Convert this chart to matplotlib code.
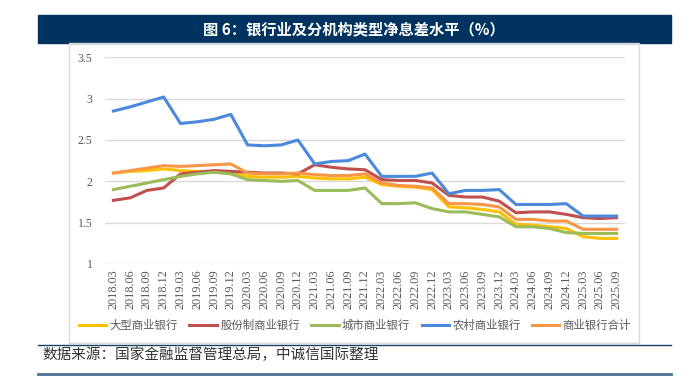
import matplotlib.pyplot as plt
from matplotlib.patches import Rectangle
from matplotlib.lines import Line2D
import numpy as np

plt.rcParams['font.family'] = ['Noto Sans CJK SC', 'DejaVu Sans']

# quarters 2018.03 - 2025.09
quarters = ['2018.03', '2018.06', '2018.09', '2018.12',
            '2019.03', '2019.06', '2019.09', '2019.12',
            '2020.03', '2020.06', '2020.09', '2020.12',
            '2021.03', '2021.06', '2021.09', '2021.12',
            '2022.03', '2022.06', '2022.09', '2022.12',
            '2023.03', '2023.06', '2023.09', '2023.12',
            '2024.03', '2024.06', '2024.09', '2024.12',
            '2025.03', '2025.06', '2025.09']

large = [2.10, 2.12, 2.13, 2.15, 2.13, 2.12, 2.11, 2.10,
         2.06, 2.05, 2.05, 2.06, 2.04, 2.03, 2.03, 2.05,
         1.96, 1.94, 1.93, 1.90, 1.69, 1.68, 1.66, 1.63,
         1.48, 1.47, 1.45, 1.43, 1.33, 1.31, 1.31]
joint_stock = [1.77, 1.80, 1.89, 1.92, 2.09, 2.11, 2.13, 2.12,
               2.11, 2.10, 2.10, 2.09, 2.20, 2.17, 2.15, 2.14,
               2.02, 2.01, 2.01, 1.98, 1.83, 1.81, 1.81, 1.76,
               1.62, 1.63, 1.63, 1.60, 1.56, 1.55, 1.56]
city = [1.90, 1.94, 1.98, 2.02, 2.06, 2.09, 2.11, 2.09,
        2.02, 2.01, 2.00, 2.01, 1.89, 1.89, 1.89, 1.92,
        1.73, 1.73, 1.74, 1.67, 1.63, 1.63, 1.60, 1.57,
        1.45, 1.45, 1.43, 1.38, 1.37, 1.37, 1.37]
rural = [2.85, 2.90, 2.96, 3.02, 2.70, 2.72, 2.75, 2.81,
         2.44, 2.43, 2.44, 2.50, 2.21, 2.24, 2.25, 2.33,
         2.06, 2.06, 2.06, 2.10, 1.85, 1.89, 1.89, 1.90,
         1.72, 1.72, 1.72, 1.73, 1.58, 1.58, 1.58]
total = [2.10, 2.13, 2.16, 2.19, 2.18, 2.19, 2.20, 2.21,
         2.10, 2.09, 2.09, 2.10, 2.08, 2.07, 2.07, 2.09,
         1.98, 1.95, 1.94, 1.92, 1.73, 1.73, 1.72, 1.69,
         1.54, 1.54, 1.52, 1.52, 1.42, 1.42, 1.42]

series_names = ['大型商业银行', '股份制商业银行', '城市商业银行', '农村商业银行', '商业银行合计']
series_values = [large, joint_stock, city, rural, total]
colors = ['#FFC000', '#C0504D', '#9BBB59', '#4A89DC', '#F79646']

W, H = 690, 383
fig = plt.figure(figsize=(6.9, 3.83), dpi=100)

# title bar
fig.patches.append(Rectangle((38 / W, 1 - 42.7 / H), 633 / W, 27.7 / H,
                             transform=fig.transFigure, color='#00335F', zorder=0))
fig.text(354 / W, 1 - 29 / H, '图 6：银行业及分机构类型净息差水平（%）',
         color='white', fontsize=11, fontweight='bold', ha='center', va='center')

# chart frame
fig.patches.append(Rectangle((69 / W, 1 - 343 / H), 570 / W, 300.3 / H,
                             transform=fig.transFigure, fill=False,
                             edgecolor='#D9D9D9', lw=1, zorder=0))

ax = fig.add_axes([105 / W, 1 - 264 / H, 520 / W, 206.7 / H])
x = np.arange(len(quarters))
for name, vals, c in zip(series_names, series_values, colors):
    ax.plot(x, vals, color=c, lw=2.2, label=name, solid_joinstyle='round')

ax.set_xlim(-0.5, len(quarters) - 0.5)
ax.set_ylim(1, 3.5)
ax.set_yticks([1, 1.5, 2, 2.5, 3, 3.5])
ax.set_yticklabels(['1', '1.5', '2', '2.5', '3', '3.5'],
                   fontfamily='Liberation Serif', fontsize=8.5, color='#595959')
ax.set_xticks(x)
ax.set_xticklabels(quarters, rotation=90, fontfamily='Liberation Serif',
                   fontsize=8.8, color='#595959')
ax.tick_params(axis='both', length=0)
ax.tick_params(axis='y', pad=9)
ax.tick_params(axis='x', pad=4)
ax.grid(axis='y', color='#D9D9D9', lw=1)
ax.set_axisbelow(True)
for s in ax.spines.values():
    s.set_visible(False)

fig.legend(loc='center', bbox_to_anchor=(355 / W, 1 - 325 / H), ncol=5,
           frameon=False, fontsize=8.2, handlelength=2.4, handletextpad=0.3,
           columnspacing=1.0, labelcolor='#595959')

# source lines
fig.add_artist(Line2D([38 / W, 671 / W], [1 - 345 / H, 1 - 345 / H],
                      transform=fig.transFigure, color='#1F3F66', lw=1))
fig.add_artist(Line2D([38 / W, 671 / W], [1 - 374 / H, 1 - 374 / H],
                      transform=fig.transFigure, color='#4F6E93', lw=2))
fig.text(42 / W, 1 - 355 / H, '数据来源：国家金融监督管理总局，中诚信国际整理',
         fontsize=10.5, color='#333333', ha='left', va='center', style='italic')

fig.savefig('out.png', dpi=100)
